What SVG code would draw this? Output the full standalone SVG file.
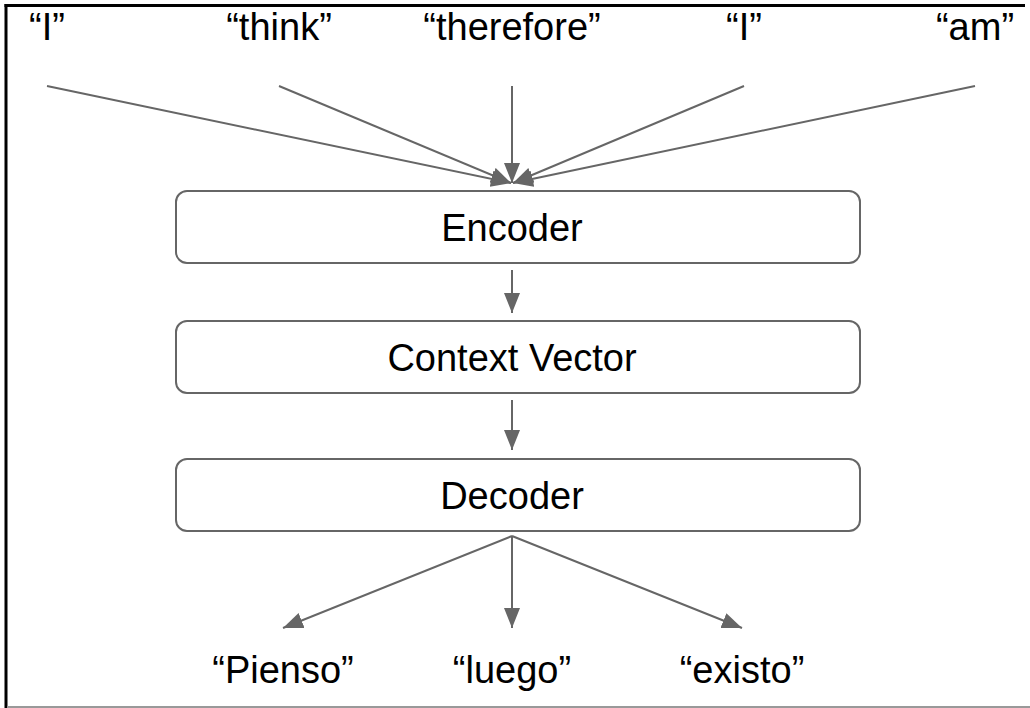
<svg xmlns="http://www.w3.org/2000/svg" width="1030" height="708" viewBox="0 0 1030 708">
  <style>
    .box { fill: #ffffff; stroke: #666666; stroke-width: 2; }
    .lbl { font-family: "Liberation Sans", Arial, sans-serif; font-size: 38px; fill: #000000; text-anchor: middle; }
    .edge { stroke: #666666; stroke-width: 2; fill: none; marker-end: url(#arrow); }
  </style>
  <defs>
    <marker id="arrow" markerUnits="userSpaceOnUse" markerWidth="22" markerHeight="18" refX="20" refY="8" orient="auto">
      <path d="M0,0 L20,8 L0,16 z" fill="#666666"/>
    </marker>
  </defs>
  <rect x="0" y="0" width="1030" height="708" fill="#ffffff"/>
  <g id="frame">
    <line x1="4.5" y1="5.5" x2="1025" y2="5.5" stroke="#000000" stroke-width="3"/>
    <line x1="6" y1="4" x2="6" y2="708" stroke="#000000" stroke-width="3"/>
    <line x1="7" y1="707" x2="1030" y2="707" stroke="#999999" stroke-width="2"/>
  </g>
  <g id="inputs">
    <text class="lbl" x="47" y="40">“I”</text>
    <text class="lbl" x="279" y="40">“think”</text>
    <text class="lbl" x="512" y="40">“therefore”</text>
    <text class="lbl" x="744" y="40">“I”</text>
    <text class="lbl" x="975" y="40">“am”</text>
  </g>
  <g id="encoder">
    <rect class="box" x="176" y="191" width="684" height="72" rx="11" ry="11"/>
    <text class="lbl" x="512" y="241">Encoder</text>
  </g>
  <g id="context-vector">
    <rect class="box" x="176" y="321" width="684" height="72" rx="11" ry="11"/>
    <text class="lbl" x="512" y="371">Context Vector</text>
  </g>
  <g id="decoder">
    <rect class="box" x="176" y="459" width="684" height="72" rx="11" ry="11"/>
    <text class="lbl" x="512" y="509">Decoder</text>
  </g>
  <g id="outputs">
    <text class="lbl" x="283" y="683">“Pienso”</text>
    <text class="lbl" x="512" y="683">“luego”</text>
    <text class="lbl" x="742" y="683">“existo”</text>
  </g>
  <g id="connectors">
    <line class="edge" x1="47" y1="86" x2="511" y2="183"/>
    <line class="edge" x1="279" y1="86" x2="511" y2="183"/>
    <line class="edge" x1="512" y1="86" x2="512" y2="183"/>
    <line class="edge" x1="744" y1="86" x2="513" y2="183"/>
    <line class="edge" x1="975" y1="86" x2="513" y2="183"/>
    <line class="edge" x1="512" y1="270" x2="512" y2="313"/>
    <line class="edge" x1="512" y1="400" x2="512" y2="450"/>
    <line class="edge" x1="512" y1="536" x2="283" y2="628"/>
    <line class="edge" x1="512" y1="536" x2="512" y2="628"/>
    <line class="edge" x1="512" y1="536" x2="742" y2="628"/>
  </g>
</svg>
